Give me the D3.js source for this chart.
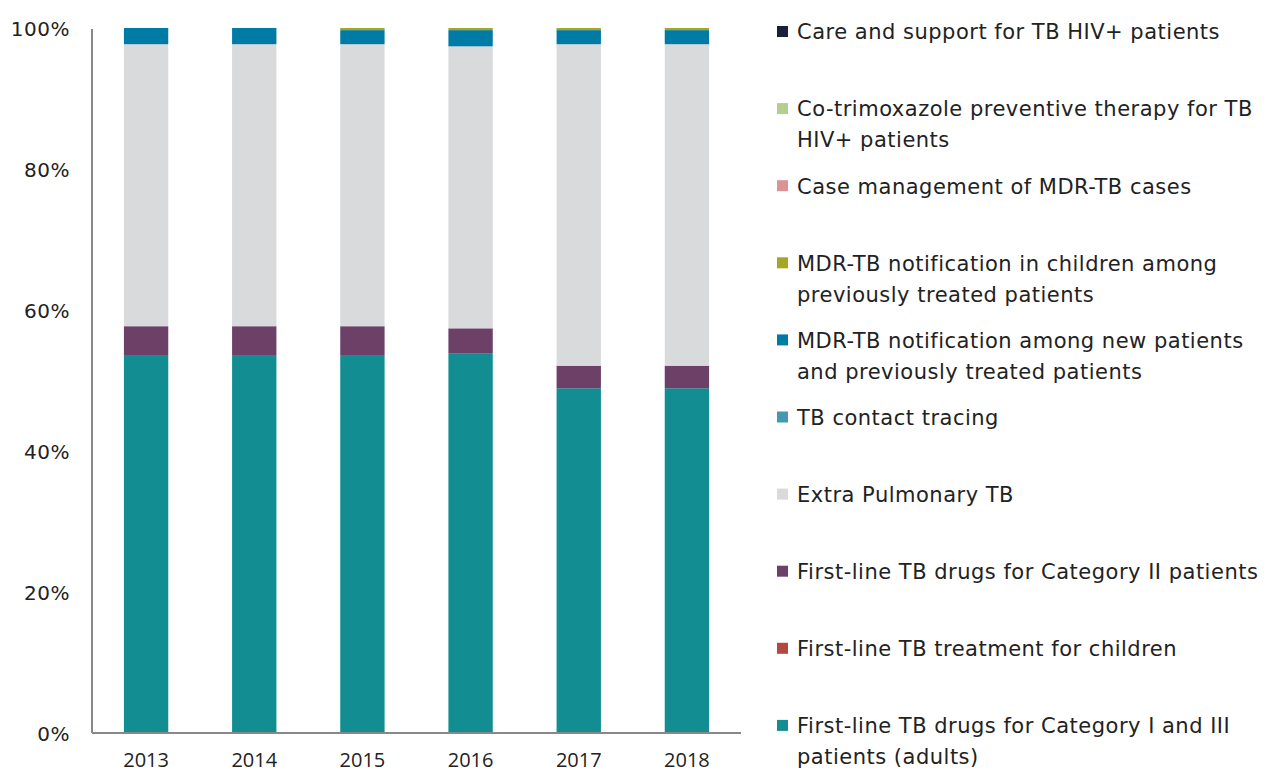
<!DOCTYPE html>
<html>
<head>
<meta charset="utf-8">
<script src="https://cdn.jsdelivr.net/npm/d3@7"></script>
<style>
  body { margin: 0; background: #fff; }
  text { font-family: "Open Sans", "DejaVu Sans", sans-serif; fill: #222; }
</style>
</head>
<body>
<div id="chart"></div>
<script>
"use strict";

// categories on the x-axis
var years = ["2013", "2014", "2015", "2016", "2017", "2018"];

// series, bottom of the stack first (percent of total)
var seriesNames = [
	"First-line TB drugs for Category I and III patients (adults)",
	"First-line TB treatment for children",
	"First-line TB drugs for Category II patients",
	"Extra Pulmonary TB",
	"TB contact tracing",
	"MDR-TB notification among new patients and previously treated patients",
	"MDR-TB notification in children among previously treated patients",
	"Case management of MDR-TB cases",
	"Co-trimoxazole preventive therapy for TB HIV+ patients",
	"Care and support for TB HIV+ patients"
];
var catOneThree   = [53.5, 53.5, 53.5, 53.8, 48.9, 48.9];
var childTreat    = [0, 0, 0, 0, 0, 0];
var catTwo        = [4.2, 4.2, 4.2, 3.6, 3.2, 3.2];
var extraPulm     = [40.0, 40.0, 40.0, 40.0, 45.6, 45.6];
var contactTrace  = [0, 0, 0, 0, 0, 0];
var mdrNew        = [2.3, 2.3, 2.0, 2.3, 2.0, 2.0];
var mdrChildren   = [0, 0, 0.3, 0.3, 0.3, 0.3];
var mdrCaseMgmt   = [0, 0, 0, 0, 0, 0];
var cotrimoxazole = [0, 0, 0, 0, 0, 0];
var careSupport   = [0, 0, 0, 0, 0, 0];

var seriesValues = [catOneThree, childTreat, catTwo, extraPulm, contactTrace,
	mdrNew, mdrChildren, mdrCaseMgmt, cotrimoxazole, careSupport];

var colors = ["#128e92", "#b5473f", "#6d4068", "#d9dadc", "#4499b0",
	"#007ba5", "#a5a526", "#d99594", "#b3ce8f", "#1b1f3a"];

// legend lines, top to bottom (wrapped as in the picture)
var legendLines = [
	["Care and support for TB HIV+ patients"],
	["Co-trimoxazole preventive therapy for TB", "HIV+ patients"],
	["Case management of MDR-TB cases"],
	["MDR-TB notification in children among", "previously treated patients"],
	["MDR-TB notification among new patients", "and previously treated patients"],
	["TB contact tracing"],
	["Extra Pulmonary TB"],
	["First-line TB drugs for Category II patients"],
	["First-line TB treatment for children"],
	["First-line TB drugs for Category I and III", "patients (adults)"]
];

var yTicks = [0, 20, 40, 60, 80, 100];

//
// Setup
//
var width = 1273, height = 774;
var plot = { left: 92, right: 741, top: 28, bottom: 733 };

var table = years.map(function(y, i) {
	var row = { year: y };
	seriesNames.forEach(function(n, k) { row[n] = seriesValues[k][i]; });
	return row;
});

var stack = d3.stack().keys(seriesNames)(table);

var x = d3.scaleBand()
	.domain(years)
	.range([plot.left, plot.right])
	.paddingInner(0.59)
	.paddingOuter(0.295);

var y = d3.scaleLinear()
	.domain([0, 100])
	.range([plot.bottom, plot.top]);

var svg = d3.select("#chart")
	.append("svg")
		.attr("width", width)
		.attr("height", height);

//
// Bars
//
svg.selectAll(".series")
	.data(stack)
	.enter().append("g")
		.attr("class", "series")
		.attr("fill", function(d, i) { return colors[i]; })
	.selectAll("rect")
	.data(function(d) { return d; })
	.enter().append("rect")
		.attr("x", function(d) { return x(d.data.year); })
		.attr("width", x.bandwidth())
		.attr("y", function(d) { return y(d[1]); })
		.attr("height", function(d) { return y(d[0]) - y(d[1]); });

//
// Axes
//
var yAxis = d3.axisLeft(y)
	.tickValues(yTicks)
	.tickSize(0)
	.tickPadding(22)
	.tickFormat(function(d) { return d + "%"; });

var gy = svg.append("g")
	.attr("transform", "translate(" + plot.left + ",0)")
	.call(yAxis);
gy.select(".domain").attr("stroke", "#888").attr("stroke-width", 2)
	.attr("d", "M0," + (plot.top + 1) + "V" + plot.bottom);
gy.selectAll("text")
	.style("font-size", "20px")
	.style("font-family", "'DejaVu Sans', sans-serif")
	.style("letter-spacing", "0.5px")
	.attr("dy", "0.36em");

var xAxis = d3.axisBottom(x).tickSize(0).tickPadding(20);
var gx = svg.append("g")
	.attr("transform", "translate(0," + plot.bottom + ")")
	.call(xAxis);
gx.select(".domain").attr("stroke", "#888").attr("stroke-width", 2)
	.attr("d", "M" + plot.left + ",0H" + plot.right);
gx.selectAll("text").style("font-size", "20px").style("font-family", null).attr("dy", "0.71em");

//
// Legend
//
var legend = svg.selectAll(".legend")
	.data(legendLines)
	.enter().append("g")
		.attr("class", "legend")
		.attr("transform", function(d, i) { return "translate(777," + (32 + i * 77.1) + ")"; });

legend.append("rect")
	.attr("x", 0)
	.attr("y", -6)
	.attr("width", 11)
	.attr("height", 11)
	.attr("fill", function(d, i) { return colors[colors.length - 1 - i]; });

legend.append("text")
	.attr("x", 20)
	.style("font-size", "21px")
	.style("font-family", "'DejaVu Sans', sans-serif")
	.style("letter-spacing", "0.5px")
	.selectAll("tspan")
	.data(function(d) { return d; })
	.enter().append("tspan")
		.attr("x", 20)
		.attr("y", function(d, j) { return j * 31; })
		.attr("dy", "0.35em")
		.text(function(d) { return d; });
</script>
</body>
</html>
